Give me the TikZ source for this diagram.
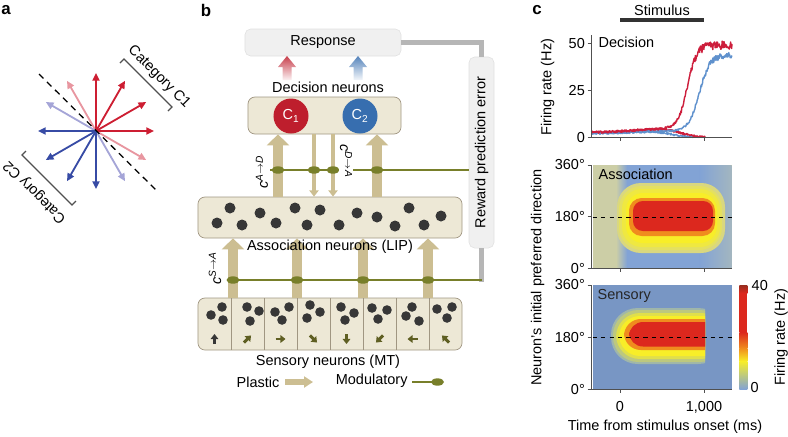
\documentclass[tikz,border=0pt]{standalone}
\usepackage{fontspec}
\setmainfont{Liberation Sans}
\usetikzlibrary{arrows.meta}
\usetikzlibrary{calc}

\definecolor{catred}{RGB}{205,30,50}
\definecolor{catpink}{RGB}{232,150,160}
\definecolor{catblue}{RGB}{55,75,165}
\definecolor{catlav}{RGB}{165,165,215}
\definecolor{beige}{RGB}{237,232,214}
\definecolor{boxedge}{RGB}{160,150,130}
\definecolor{lightbox}{RGB}{240,240,240}
\definecolor{plastic}{RGB}{204,190,146}
\definecolor{modgreen}{RGB}{120,127,42}
\definecolor{dotgray}{RGB}{55,55,55}
\definecolor{iconolive}{RGB}{95,95,35}
\definecolor{cone}{RGB}{190,30,45}
\definecolor{ctwo}{RGB}{55,110,175}
\definecolor{fbgray}{RGB}{182,182,182}
\definecolor{axisgray}{RGB}{80,80,80}
\definecolor{ratered}{RGB}{205,30,60}
\definecolor{rateblue}{RGB}{95,145,205}
\definecolor{hmblue}{RGB}{130,163,213}
\definecolor{hmgreen}{RGB}{204,206,166}
\definecolor{hmyellow}{RGB}{248,238,40}
\definecolor{hmorange}{RGB}{240,140,30}
\definecolor{hmred}{RGB}{220,40,30}
\definecolor{hmdark}{RGB}{150,45,30}

\begin{document}
\begin{tikzpicture}[x=0.025cm, y=-0.025cm, font=\fontsize{10.3}{12}\selectfont,
        declare function={sig(\z)=1/(1+exp(-max(-9,min(9,\z))));},
        panel/.style={font=\fontsize{12}{14}\selectfont\bfseries},
        dirarrow/.style={line width=1.3pt, -{Triangle[length=5.5pt, width=5pt]}},
        bracket/.style={draw=axisgray, line width=0.9pt},
        boundary/.style={draw=black, line width=0.9pt, dash pattern=on 4.5pt off 3.5pt},
        layerbox/.style={draw=boxedge, fill=beige, rounded corners=5pt, line width=0.5pt},
        greybox/.style={draw=black!12, fill=lightbox, rounded corners=4pt, line width=0.4pt},
        bigplastic/.style={draw=plastic, line width=7.8pt, -{Triangle[length=7.8pt, width=15.6pt]}},
        thinplastic/.style={draw=plastic, line width=3.4pt, -{Triangle[length=4.5pt, width=6.6pt]}},
        modline/.style={draw=modgreen, line width=1.8pt},
        feedback/.style={draw=fbgray, line width=4.2pt},
        neuron/.style={circle, minimum size=0.875cm, inner sep=0pt, text=white},
        cellarrow/.style={line width=2.1pt, -{Triangle[length=3.6pt, width=5.4pt]}},
        axis/.style={draw=axisgray, line width=0.7pt},
        ticklab/.style={anchor=east, inner sep=1pt},
        rateline/.style={line width=1pt, line join=round}]
    \useasboundingbox (0,0) rectangle (788,436);
    \pgfmathsetseed{7}

    % a
    \node[panel] (la) at (6,10) {a};
    \coordinate (star) at (96,131);
    \foreach \a/\c in {120/catpink, 330/catpink, 150/catlav, 300/catlav, 0/catred, 30/catred, 60/catred, 90/catred, 180/catblue, 210/catblue, 240/catblue, 270/catblue}
        \draw[dirarrow, \c] (star) -- ++({-\a}:58);
    \draw[boundary] (39,74) -- (156,190);
    \draw[bracket] (120,63) -- (124,59) -- (172,107) -- (168,111);
    \draw[bracket] (26,151) -- (22,155) -- (72,205) -- (76,201);
    \node[rotate=-45] (catone) at (159,77) {Category C1};
    \node[rotate=135] (cattwo) at (35,192) {Category C2};

    % b
    \node[panel] (lb) at (206,10) {b};
    \node[greybox, minimum width=3.9cm, minimum height=0.675cm] (response) at (323,42.5) {Response};
    \node[greybox, minimum width=0.625cm, minimum height=4.775cm] (reward) at (481.5,152.5) {};
    \node[rotate=90] (rewardtext) at (reward.center) {Reward prediction error};
    \coordinate (modlow) at (481.5,280);
    \draw[feedback] (response.east) -| (reward.north);
    \draw[feedback] (reward.south) -- ([yshift=-0.05cm]modlow);

    \node[layerbox, minimum width=3.825cm, minimum height=0.925cm] (decision) at (324.5,115.5) {};
    \node[layerbox, minimum width=6.6cm, minimum height=1.025cm] (assoc) at (330,217.5) {};
    \node[layerbox, minimum width=6.6cm, minimum height=1.3cm] (sensory) at (330,324) {};
    \foreach \i in {1,...,7}
        \draw[boxedge, line width=0.5pt] ({198+33*\i},298) -- ({198+33*\i},350);

    \node (declabel) at (328,87) {Decision neurons};
    \node (senslabel) at (328,362) {Sensory neurons (MT)};
    \node[neuron, fill=cone] (cA) at (291,116) {C\textsubscript{1}};
    \node[neuron, fill=ctwo] (cB) at (360,116) {C\textsubscript{2}};
    \foreach \x/\c in {287/cone, 358/ctwo}
        \shade[top color=\c!85, bottom color=\c!6] (\x-4.5,80) -- (\x-4.5,67) -- (\x-9,67) -- (\x,56) -- (\x+9,67) -- (\x+4.5,67) -- (\x+4.5,80) -- cycle;

    \foreach \x/\y in {230/208, 217/223, 242/225, 260/213, 276/223, 295/208, 307/225, 320/210, 339/225, 357/213, 377/217, 395/226, 409/208, 424/225, 441/216}
        \fill[dotgray] (\x,\y) circle[radius=5.5];
    \foreach \x/\y in {222/307, 211/315, 223/320, 247/307, 259/311, 250/321, 275/312, 289/307, 282/320, 310/305, 320/312, 307/318, 341/307, 354/313, 345/320, 372/308, 387/310, 378/319, 412/307, 406/316, 419/321, 437/309, 452/307, 447/318}
        \fill[dotgray] (\x,\y) circle[radius=4.8];
    \foreach \i/\a/\c in {0/90/dotgray, 1/45/iconolive, 2/0/iconolive, 3/-45/iconolive, 4/-90/iconolive, 5/-135/iconolive, 6/180/iconolive, 7/135/iconolive}
        \draw[cellarrow, \c] ({214.5+33*\i},339) ++({-\a-180}:5) -- ++({-\a}:10);

    \foreach \x in {278,377}
        \draw[bigplastic] (\x,0 |- assoc.north) -- (\x,0 |- decision.south);
    \foreach \x in {314,333}
        \draw[thinplastic] (\x,0 |- decision.south) -- (\x,0 |- assoc.north);
    \foreach \x in {233,297,363,428}
        \draw[bigplastic] (\x,0 |- sensory.north) -- (\x,0 |- assoc.south);
    \node (assoclabel) at (330,247) {Association neurons (LIP)};

    \coordinate (modtopstart) at (270,170);
    \coordinate (modlowstart) at (230,280);
    \draw[modline] (modtopstart) -- (reward.west |- modtopstart);
    \draw[modline] (modlowstart) -- (modlow);
    \foreach \x in {278,314,333,377}
        \fill[modgreen] (\x,170) ellipse[x radius=6.5, y radius=3.7];
    \foreach \x in {233,297,363,428}
        \fill[modgreen] (\x,280) ellipse[x radius=6.5, y radius=3.7];
    \node[rotate=90] (cad) at (262,172) {\textit{c}\textsuperscript{\textit{A}$\rightarrow$\textit{D}}};
    \node[rotate=-90, fill=white, inner sep=0.5pt] (cda) at (346,161) {\textit{c}\textsuperscript{\textit{D}$\rightarrow$\textit{A}}};
    \node[rotate=90] (csa) at (215,268) {\textit{c}\textsuperscript{\textit{S}$\rightarrow$\textit{A}}};

    \node (legplastic) at (258,382) {Plastic};
    \coordinate (plasticfrom) at (285,382);
    \draw[plastic, line width=4.3pt, -{Triangle[length=6.4pt, width=7.8pt]}] (plasticfrom) -- ++(28,0);
    \node (legmod) at (371.7,381) {Modulatory};
    \coordinate (modknob) at (437.5,382);
    \draw[modline] (legmod.east) ++(0,1) -- (modknob);
    \fill[modgreen] (modknob) ellipse[x radius=6.5, y radius=3.7];

    % c
    \node[panel] (lc) at (537,10) {c};
    \node (stimlabel) at (662,10.5) {Stimulus};
    \draw[line width=2.4pt, black!80] (620,20) -- (704,20);

    \begin{scope}[shift={(620,137.3)}, x=0.0021cm, y=0.047cm]
        \draw[rateline, rateblue] plot[domain=-337:900, samples=220] (\x, {max(0,(2+1.5*sig((\x-200)/200))*sig(-(\x-600)/90)+0.5*rand)});
        \draw[rateline, ratered] plot[domain=-337:1010, samples=240] (\x, {max(0,(2.5+2.5*sig((\x-200)/200))*sig(-(\x-720)/90)+0.6*rand)});
        \draw[rateline, rateblue] plot[domain=-337:1330, samples=300] (\x, {2+1.5*sig((\x-200)/200)+40*sig((\x-940)/62)+(0.5+1.2*sig((\x-940)/62))*rand});
        \draw[rateline, ratered] plot[domain=-337:1330, samples=300] (\x, {2.5+2.5*sig((\x-200)/200)+44*sig((\x-800)/55)+(0.6+1.6*sig((\x-800)/55))*rand});
    \end{scope}
    \draw[axis] (591.7,35) -- (591.7,137.3) -- (731.7,137.3);
    \foreach \t in {620,704}
        \draw[axis] (\t,137.3) -- (\t,141.3);
    \foreach \v/\y in {50/43.3, 25/90.7, 0/137.3} {
        \draw[axis] (587.7,\y) -- (591.7,\y);
        \node[ticklab] (rate\v) at (586.5,\y) {\v};
    }
    \node[anchor=west, inner sep=1pt] (declab) at (597,42.5) {Decision};
    \node[rotate=90] (ratelabel) at (547.5,87) {Firing rate (Hz)};

    % association map
    \fill[hmgreen] (592.7,165) rectangle (731.7,268.3);
    \fill[hmblue] (627,165) rectangle (700,268.3);
    \shade[left color=hmgreen, right color=hmblue] (616,165) rectangle (627.1,268.3);
    \shade[left color=hmblue, right color=hmblue!55!hmgreen] (699.9,165) rectangle (731.7,268.3);
    \fill[hmyellow!30!hmgreen, rounded corners=17] (617,183) rectangle (725,253);
    \fill[hmyellow!55!hmgreen, rounded corners=16] (619,186) rectangle (722,250);
    \fill[hmyellow!80!hmgreen, rounded corners=14] (622,189) rectangle (720,247);
    \fill[hmyellow, rounded corners=12] (626,193) rectangle (717,243);
    \fill[hmorange, rounded corners=9] (629,198) rectangle (715,236);
    \fill[hmred, rounded corners=7] (633,201) rectangle (713,231);
    \draw[black, dashed, line width=0.7pt] (592.7,217.7) -- (731.7,217.7);
    \node[anchor=west, inner sep=1pt] (asslab) at (597,174) {Association};

    % sensory map
    \fill[hmblue!92!black] (592.7,285) rectangle (731.7,389.3);
    \begin{scope}
        \clip (592.7,285) rectangle (705,389.3);
        \fill[hmyellow!25!hmblue, rounded corners=19] (611,308) rectangle (725,364);
        \fill[hmyellow!50!hmblue, rounded corners=18] (613,310) rectangle (725,362);
        \fill[hmyellow!80!hmblue, rounded corners=17] (616,313) rectangle (725,359);
        \fill[hmyellow, rounded corners=15] (619,316) rectangle (725,356);
        \fill[hmorange, rounded corners=12] (624,319) rectangle (725,350);
        \fill[hmred, rounded corners=10] (629,322) rectangle (725,346.5);
    \end{scope}
    \draw[black, dashed, line width=0.7pt] (592.7,337.7) -- (731.7,337.7);
    \node[anchor=west, inner sep=1pt, text=black!85] (senslab) at (596,295.5) {Sensory};

    \foreach \top/\bot in {165/268.3, 285/389.3} {
        \draw[axis] (591.7,\top) -- (591.7,\bot) -- (731.7,\bot);
        \foreach \t in {620,704}
            \draw[axis] (\t,\bot) -- (\t,\bot+4);
        \draw[axis] (587.7,\top) -- (591.7,\top);
        \draw[axis] (587.7,{(\top+\bot)/2}) -- (591.7,{(\top+\bot)/2});
        \draw[axis] (587.7,\bot) -- (591.7,\bot);
        \node[ticklab] (deg\top a) at (586.5,\top) {360°};
        \node[ticklab] (deg\top b) at (586.5,{(\top+\bot)/2}) {180°};
        \node[ticklab] (deg\top c) at (586.5,\bot) {0°};
    }
    \node (tzero) at (620,407) {0};
    \node (tthou) at (704,407) {1,000};
    \node (timelab) at (665,427) {Time from stimulus onset (ms)};
    \node[rotate=90] (dirlabel) at (537.5,277.5) {Neuron’s initial preferred direction};

    % colour bar
    \shade[top color=hmdark, bottom color=hmred] (739.3,285) rectangle (747.3,293);
    \fill[hmred] (739.3,292.8) rectangle (747.3,332.2);
    \shade[top color=hmred, bottom color=hmorange] (739.3,332) rectangle (747.3,348.2);
    \shade[top color=hmorange, bottom color=hmyellow] (739.3,348) rectangle (747.3,361.2);
    \shade[top color=hmyellow, bottom color=hmblue] (739.3,361) rectangle (747.3,389.3);
    \node[anchor=west, inner sep=1pt] (cbmax) at (750,286) {40};
    \node[anchor=west, inner sep=1pt] (cbmin) at (749,388) {0};
    \node[rotate=90] (cblabel) at (781,337) {Firing rate (Hz)};
\end{tikzpicture}
\end{document}
